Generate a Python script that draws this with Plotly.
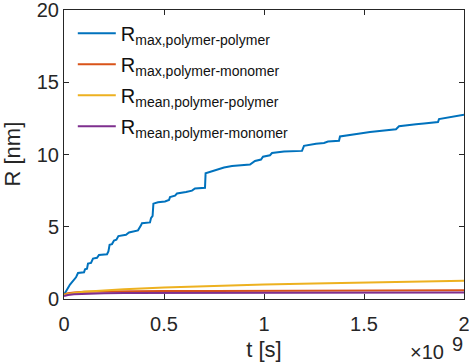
import plotly.graph_objects as go

# time in units of 1e9 s
t_max_pp = [0, 0.03, 0.06, 0.07, 0.1, 0.105, 0.115, 0.12, 0.135, 0.145, 0.165, 0.175, 0.215, 0.222, 0.228,
            0.24, 0.25, 0.262, 0.272, 0.31, 0.325, 0.37, 0.385, 0.39, 0.43, 0.435, 0.443, 0.447, 0.47, 0.505,
            0.525, 0.53, 0.555, 0.565, 0.61, 0.64, 0.655, 0.705, 0.708, 0.74, 0.76, 0.8, 0.84, 0.93, 0.955,
            0.985, 0.995, 1.03, 1.04, 1.1, 1.19, 1.2, 1.26, 1.3, 1.32, 1.375, 1.38, 1.42, 1.48, 1.53, 1.6,
            1.66, 1.675, 1.72, 1.76, 1.8, 1.87, 1.875, 1.95, 2.0]
R_max_pp = [0.3, 1.0, 1.5, 1.8, 1.85, 2.05, 2.1, 2.45, 2.5, 2.8, 2.85, 3.05, 3.1, 3.3, 3.75,
            3.8, 4.05, 4.1, 4.35, 4.45, 4.6, 4.75, 5.1, 5.25, 5.3, 5.6, 5.75, 6.6, 6.7, 6.75,
            6.85, 7.05, 7.15, 7.3, 7.4, 7.5, 7.65, 7.7, 8.7, 8.85, 8.95, 9.1, 9.2, 9.3, 9.55,
            9.65, 9.85, 9.95, 10.1, 10.2, 10.25, 10.6, 10.75, 10.8, 10.9, 10.95, 11.25, 11.35, 11.45, 11.55, 11.65,
            11.75, 11.95, 12.05, 12.1, 12.15, 12.25, 12.45, 12.6, 12.75]

t_smooth = [0, 0.02, 0.05, 0.1, 0.2, 0.3, 0.5, 0.75, 1.0, 1.25, 1.5, 1.75, 2.0]
R_max_pm = [0.3, 0.4, 0.45, 0.5, 0.52, 0.54, 0.55, 0.56, 0.57, 0.58, 0.58, 0.59, 0.6]
R_mean_pp = [0.3, 0.36, 0.42, 0.5, 0.6, 0.68, 0.8, 0.92, 1.0, 1.08, 1.15, 1.21, 1.27]
R_mean_pm = [0.2, 0.28, 0.33, 0.37, 0.4, 0.41, 0.42, 0.43, 0.44, 0.44, 0.45, 0.45, 0.45]

names = ["R<sub>max,polymer-polymer</sub>", "R<sub>max,polymer-monomer</sub>",
         "R<sub>mean,polymer-polymer</sub>", "R<sub>mean,polymer-monomer</sub>"]
colors = ["#0072BD", "#D95319", "#EDB120", "#7E2F8E"]

fig = go.Figure()
series = [(t_max_pp, R_max_pp), (t_smooth, R_max_pm), (t_smooth, R_mean_pp), (t_smooth, R_mean_pm)]
for i, ((x, y), n, c) in enumerate(zip(series, names, colors)):
    fig.add_trace(go.Scatter(x=x, y=y, mode="lines", name=n, legendgroup=f"g{i}",
                             line=dict(color=c, width=2)))

axcol = "#262626"
fig.update_layout(
    width=469, height=363,
    margin=dict(l=64, r=5, t=10, b=64, autoexpand=False),
    paper_bgcolor="white", plot_bgcolor="white",
    font=dict(family="Liberation Sans, Arial, sans-serif", size=20, color=axcol),
    legend=dict(x=0.022, y=0.987, xanchor="left", yanchor="top", bgcolor="rgba(255,255,255,0)",
                font=dict(size=20, color="#111"), tracegroupgap=2, itemwidth=38),
    showlegend=True,
)
fig.update_xaxes(range=[0, 2], tickvals=[0, 0.5, 1, 1.5, 2], ticktext=["0", "0.5", "1", "1.5", "2"],
                 ticks="inside", ticklen=5, tickcolor=axcol, showline=True, linecolor=axcol, linewidth=1,
                 mirror="ticks", showgrid=False, zeroline=False, automargin=False, ticklabeloverflow="allow",
                 ticklabelstandoff=7,
                 title=dict(text="t [s]", font=dict(size=22), standoff=7))
fig.update_yaxes(range=[0, 20], tickvals=[0, 5, 10, 15, 20],
                 ticks="inside", ticklen=5, tickcolor=axcol, showline=True, linecolor=axcol, linewidth=1,
                 mirror="ticks", showgrid=False, zeroline=False, automargin=False, ticklabeloverflow="allow")
fig.add_annotation(text="R [nm]", xref="paper", yref="paper", x=-0.13, y=0.5, textangle=-90,
                   xanchor="center", yanchor="middle", showarrow=False, font=dict(size=22, color=axcol))
fig.add_annotation(text="×10", xref="paper", yref="paper", x=0.955, y=-0.185, xanchor="right", yanchor="middle",
                   showarrow=False, font=dict(size=20, color=axcol))
fig.add_annotation(text="9", xref="paper", yref="paper", x=0.965, y=-0.155, xanchor="left", yanchor="middle",
                   showarrow=False, font=dict(size=20, color=axcol))
fig.write_html("out.html", config={"displayModeBar": False},
               post_script="document.body.style.margin='0';document.body.style.overflow='hidden';")
